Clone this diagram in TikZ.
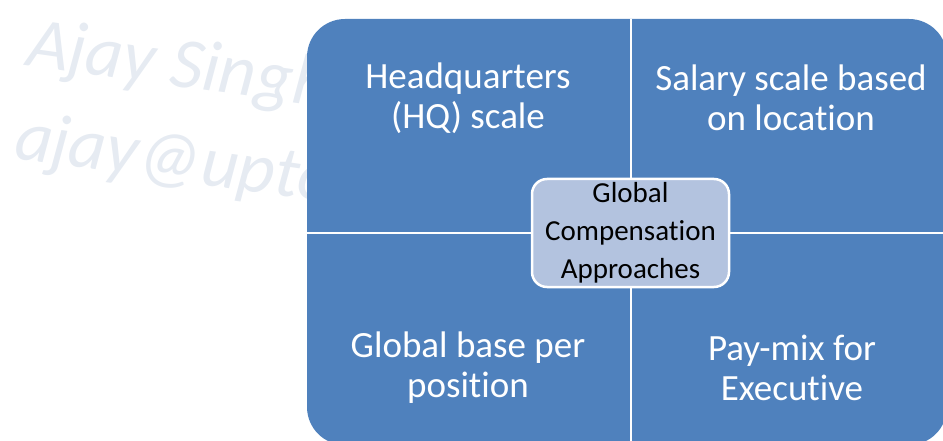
\documentclass[tikz,border=0pt]{standalone}
\usepackage{fontspec}
\setmainfont{Carlito}[Ligatures=NoCommon]
\definecolor{quadblue}{HTML}{4F81BD}
\definecolor{centerfill}{HTML}{B3C3DF}
\definecolor{wmark}{HTML}{E6EBF2}
\begin{document}
\begin{tikzpicture}[x=1pt,y=-1pt,
  quadtext/.style={text=white,align=center,inner sep=0pt,font=\fontsize{37}{40}\selectfont},
  centerbox/.style={draw=white,line width=2.5pt,fill=centerfill,rounded corners=15pt,
    minimum width=197pt,minimum height=108pt,align=center,inner sep=0pt,
    text=black,font=\fontsize{29}{38}\selectfont},
  watermark/.style={text=wmark,anchor=base west,inner sep=0pt,rotate=-8,
    font=\fontsize{72}{80}\selectfont\itshape},
  divider/.style={draw=white,line width=2.5pt}]
\useasboundingbox (0,0) rectangle (943,441);
\clip (0,0) rectangle (943,441);
% watermark
\node[watermark] (wm1) at (25,65) {Ajay Singh};
\node[watermark] (wm2) at (13,158) {ajay@upto};
% matrix background
\fill[quadblue,rounded corners=38pt] (307,19) rectangle (947,445);
\coordinate (vtop) at (631,19);
\coordinate (vbot) at (631,445);
\coordinate (hleft) at (307,233);
\coordinate (hright) at (947,233);
\draw[divider] (vtop) -- (vbot);
\draw[divider] (hleft) -- (hright);
% quadrant texts
\node[quadtext] (tl) at (468,98) {Headquarters\\(HQ) scale};
\node[quadtext] (tr) at (791,98) {Salary scale based\\on location};
\node[quadtext] (bl) at (468,368) {Global base per\\position};
\node[quadtext] (br) at (792,368) {Pay-mix for\\Executive};
% center
\node[centerbox] (center) at (630.5,233) {Global\\Compensation\\Approaches};
\end{tikzpicture}
\end{document}
